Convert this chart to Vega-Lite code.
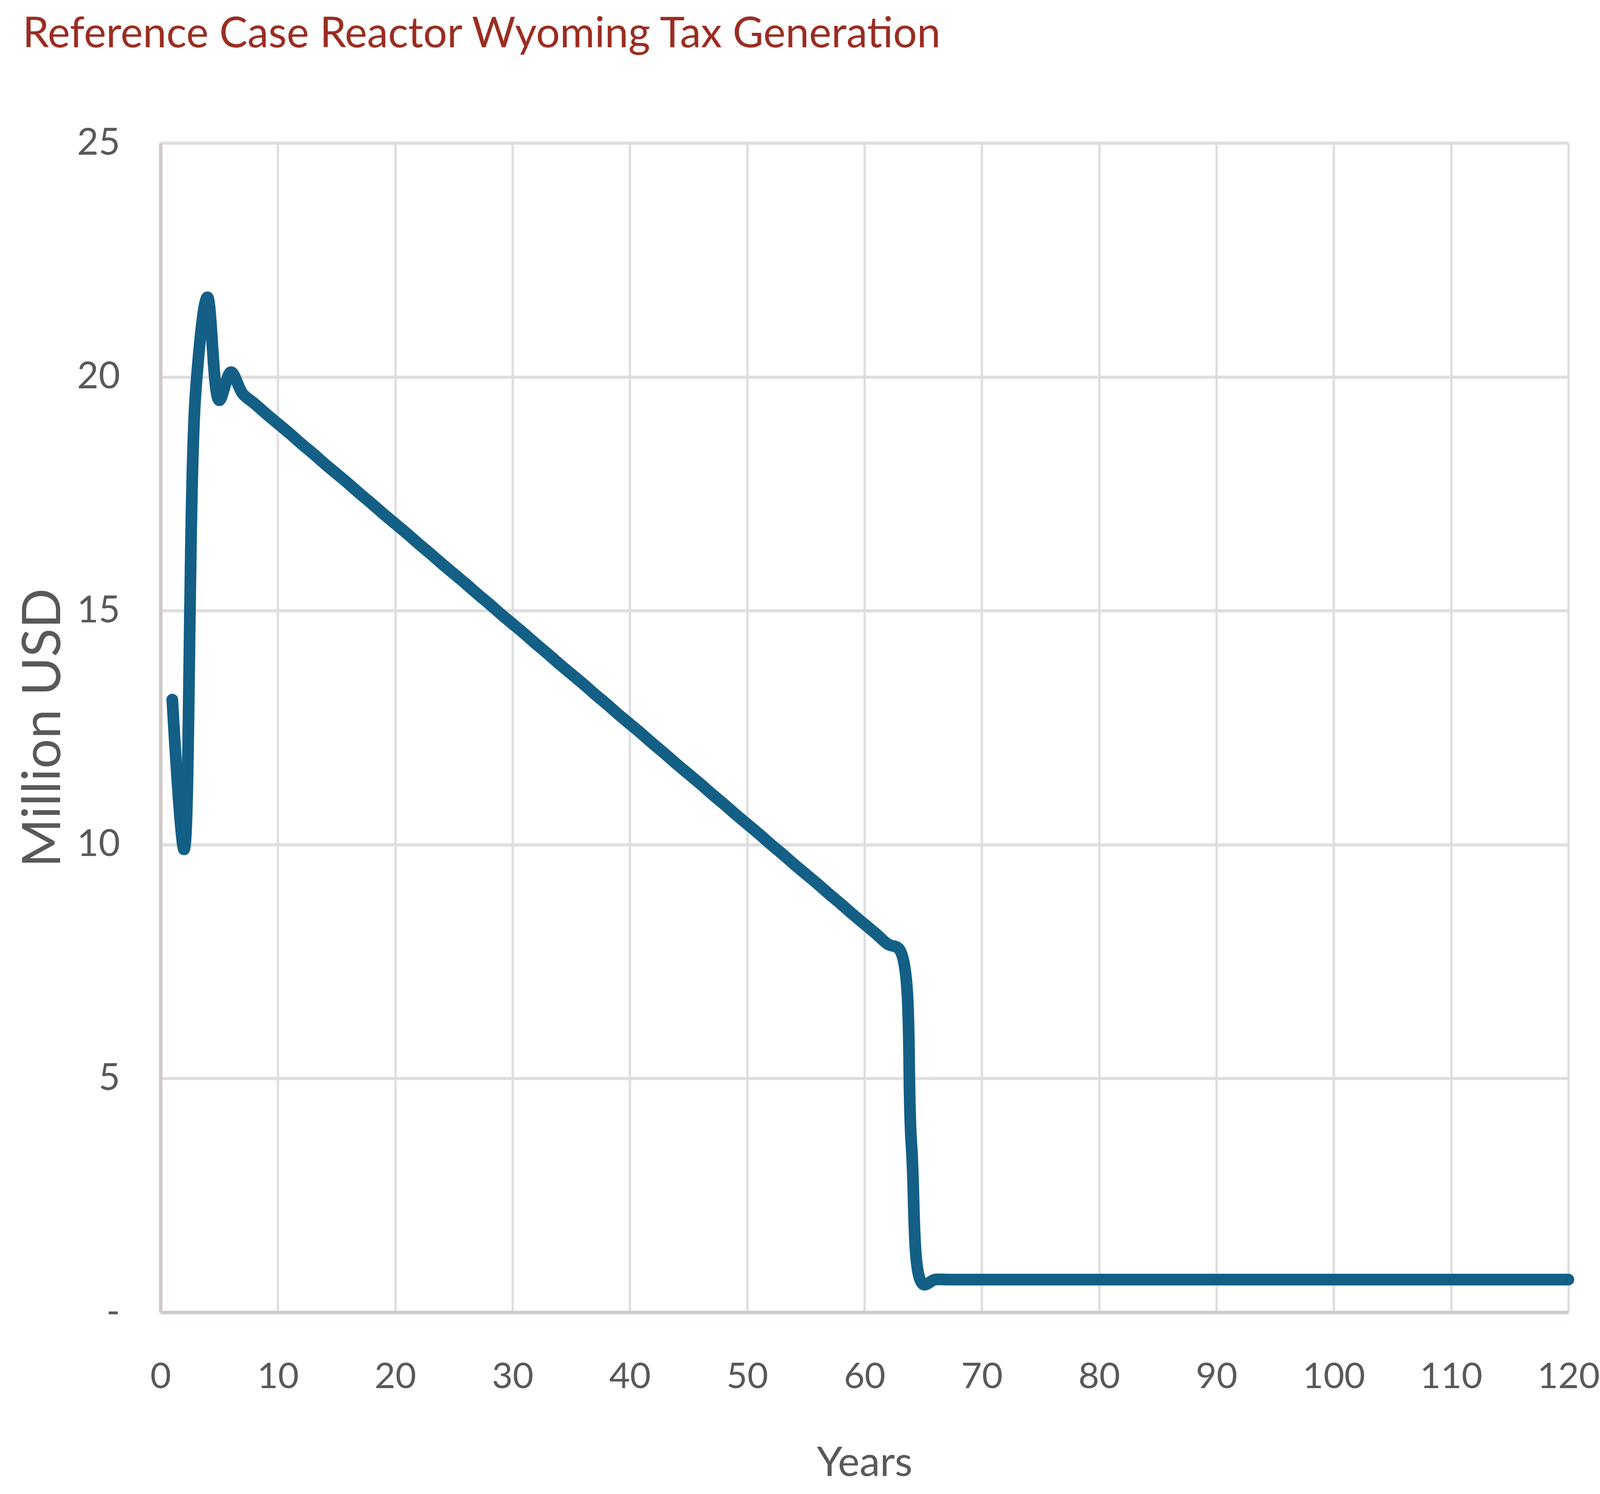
{
  "$schema": "https://vega.github.io/schema/vega-lite/v6.json",
  "autosize": {"type": "none"},
  "width": 3604,
  "height": 2993,
  "padding": {"left": 411, "top": 366, "right": 81, "bottom": 465},
  "background": "white",
  "title": {
    "text": "Reference Case Reactor Wyoming Tax Generation",
    "anchor": "start",
    "frame": "group",
    "font": "Lato",
    "fontSize": 108,
    "fontWeight": "normal",
    "color": "#9b2d22",
    "dx": -353,
    "offset": 175
  },
  "data": {
    "values": [
      {"year": 1, "usd": 13.1},
      {"year": 2, "usd": 9.9},
      {"year": 3, "usd": 19.7},
      {"year": 4, "usd": 21.7},
      {"year": 5, "usd": 19.5},
      {"year": 6, "usd": 20.1},
      {"year": 7, "usd": 19.64},
      {"year": 8, "usd": 19.43},
      {"year": 9, "usd": 19.21},
      {"year": 10, "usd": 19.0},
      {"year": 11, "usd": 18.79},
      {"year": 12, "usd": 18.57},
      {"year": 13, "usd": 18.36},
      {"year": 14, "usd": 18.14},
      {"year": 15, "usd": 17.93},
      {"year": 16, "usd": 17.72},
      {"year": 17, "usd": 17.5},
      {"year": 18, "usd": 17.29},
      {"year": 19, "usd": 17.07},
      {"year": 20, "usd": 16.86},
      {"year": 21, "usd": 16.65},
      {"year": 22, "usd": 16.43},
      {"year": 23, "usd": 16.22},
      {"year": 24, "usd": 16.0},
      {"year": 25, "usd": 15.79},
      {"year": 26, "usd": 15.58},
      {"year": 27, "usd": 15.36},
      {"year": 28, "usd": 15.15},
      {"year": 29, "usd": 14.93},
      {"year": 30, "usd": 14.72},
      {"year": 31, "usd": 14.51},
      {"year": 32, "usd": 14.29},
      {"year": 33, "usd": 14.08},
      {"year": 34, "usd": 13.86},
      {"year": 35, "usd": 13.65},
      {"year": 36, "usd": 13.44},
      {"year": 37, "usd": 13.22},
      {"year": 38, "usd": 13.01},
      {"year": 39, "usd": 12.79},
      {"year": 40, "usd": 12.58},
      {"year": 41, "usd": 12.37},
      {"year": 42, "usd": 12.15},
      {"year": 43, "usd": 11.94},
      {"year": 44, "usd": 11.72},
      {"year": 45, "usd": 11.51},
      {"year": 46, "usd": 11.3},
      {"year": 47, "usd": 11.08},
      {"year": 48, "usd": 10.87},
      {"year": 49, "usd": 10.65},
      {"year": 50, "usd": 10.44},
      {"year": 51, "usd": 10.23},
      {"year": 52, "usd": 10.01},
      {"year": 53, "usd": 9.8},
      {"year": 54, "usd": 9.58},
      {"year": 55, "usd": 9.37},
      {"year": 56, "usd": 9.16},
      {"year": 57, "usd": 8.94},
      {"year": 58, "usd": 8.73},
      {"year": 59, "usd": 8.51},
      {"year": 60, "usd": 8.3},
      {"year": 61, "usd": 8.09},
      {"year": 62, "usd": 7.87},
      {"year": 63, "usd": 7.75},
      {"year": 64, "usd": 3.6},
      {"year": 65, "usd": 0.6},
      {"year": 66, "usd": 0.7},
      {"year": 67, "usd": 0.7},
      {"year": 68, "usd": 0.7},
      {"year": 69, "usd": 0.7},
      {"year": 70, "usd": 0.7},
      {"year": 75, "usd": 0.7},
      {"year": 80, "usd": 0.7},
      {"year": 85, "usd": 0.7},
      {"year": 90, "usd": 0.7},
      {"year": 95, "usd": 0.7},
      {"year": 100, "usd": 0.7},
      {"year": 105, "usd": 0.7},
      {"year": 110, "usd": 0.7},
      {"year": 115, "usd": 0.7},
      {"year": 120, "usd": 0.7}
    ]
  },
  "mark": {
    "type": "line",
    "interpolate": "catmull-rom",
    "color": "#135f86",
    "strokeWidth": 30,
    "strokeCap": "round",
    "strokeJoin": "round"
  },
  "encoding": {
    "x": {
      "field": "year",
      "type": "quantitative",
      "scale": {"domain": [0, 120], "nice": false, "zero": false},
      "axis": {
        "values": [0, 10, 20, 30, 40, 50, 60, 70, 80, 90, 100, 110, 120],
        "title": "Years",
        "labelPadding": 120,
        "titlePadding": 135,
        "labelFlush": false,
        "labelFontSize": 92,
        "titleFontSize": 105,
        "gridWidth": 6
      }
    },
    "y": {
      "field": "usd",
      "type": "quantitative",
      "scale": {"domain": [0, 25], "nice": false},
      "axis": {
        "values": [0, 5, 10, 15, 20, 25],
        "labelExpr": "datum.value === 0 ? '-' : datum.label",
        "title": "Million USD",
        "labelPadding": 104,
        "titlePadding": 30,
        "labelFontSize": 95,
        "titleFontSize": 135,
        "gridWidth": 8
      }
    }
  },
  "config": {
    "view": {"stroke": null},
    "axis": {
      "ticks": false,
      "domain": true,
      "domainColor": "#cfcac8",
      "domainWidth": 9,
      "grid": true,
      "gridColor": "#dedede",
      "labelFont": "Lato",
      "labelColor": "#595959",
      "titleFont": "Lato",
      "titleFontWeight": "normal",
      "titleColor": "#595959"
    }
  }
}
